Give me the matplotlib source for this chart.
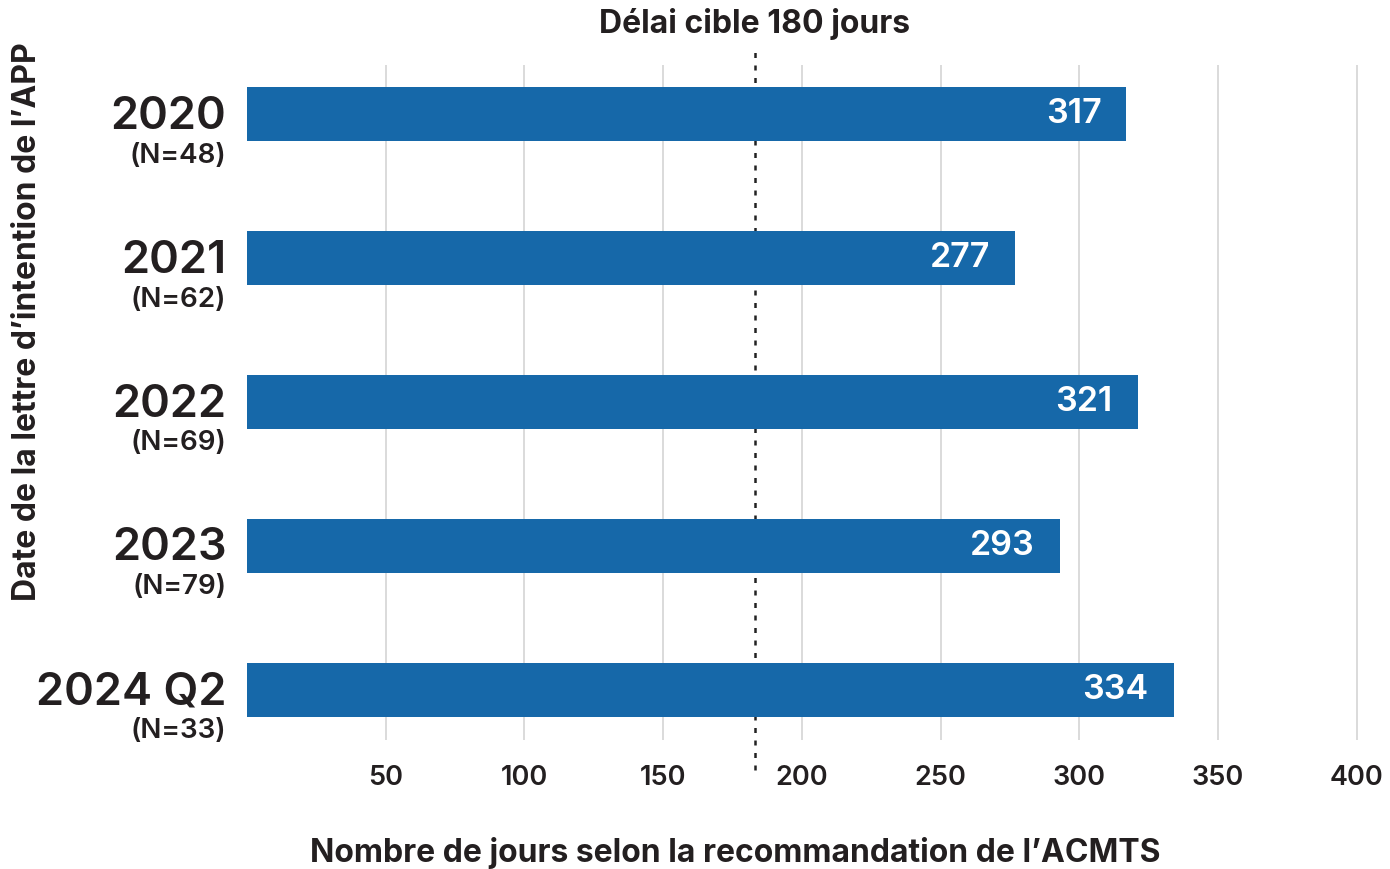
import matplotlib.pyplot as plt
from matplotlib import transforms

plt.rcParams['font.family'] = ['Inter', 'DejaVu Sans']

years = ['2020', '2021', '2022', '2023', '2024 Q2']
counts = ['(N=48)', '(N=62)', '(N=69)', '(N=79)', '(N=33)']
days = [317, 277, 321, 293, 334]
target = 183  # dotted line as drawn (labelled 180 days)
xticks = [50, 100, 150, 200, 250, 300, 350, 400]

bar_color = '#1668a9'
text_color = '#231f20'

fig = plt.figure(figsize=(13.9, 8.69), dpi=100)
ax = fig.add_axes([247 / 1390, 1 - 740 / 869, (1390 - 247) / 1390, 675 / 869])

pos = list(range(len(years)))
ax.barh(pos, days, height=0.375, color=bar_color, zorder=3)
ax.set_xlim(0, 412)
ax.set_ylim(4.35, -0.34)

ax.set_xticks(xticks)
ax.set_xticklabels([str(t) for t in xticks], fontsize=19.5, fontweight='semibold', color=text_color)
ax.tick_params(axis='x', length=0, pad=18)
ax.set_yticks([])
ax.grid(axis='x', color='#d4d4d4', linewidth=1.2, zorder=0)
for s in ax.spines.values():
    s.set_visible(False)

# value labels inside the bars
for p, v in zip(pos, days):
    ax.annotate(str(v), (v, p), xytext=(-18, 0), textcoords='offset points',
                ha='right', va='center', color='white', fontsize=24.5, fontweight='semibold', zorder=4)

# two-line category labels
tr = transforms.blended_transform_factory(ax.transAxes, ax.transData)
for p, y, n in zip(pos, years, counts):
    ax.annotate(y, (-0.018, p), xycoords=tr, xytext=(0, -2), textcoords='offset points',
                ha='right', va='center', fontsize=32.5, fontweight='semibold', color=text_color)
    ax.annotate(n, (-0.018, p), xycoords=tr, xytext=(0, -30), textcoords='offset points',
                ha='right', va='center', fontsize=20, fontweight='semibold', color=text_color)

# target line
ax.axvline(target, ymin=-0.045, ymax=1.022, color='#222222', linestyle=(0, (2, 3)),
           linewidth=1.8, clip_on=False, zorder=2)
ax.text(target, 1 - 24 / 869, 'Délai cible 180 jours',
        transform=transforms.blended_transform_factory(ax.transData, fig.transFigure),
        ha='center', va='center', fontsize=23, fontweight='bold', color=text_color)

fig.text(735 / 1390, 1 - 853 / 869, 'Nombre de jours selon la recommandation de l’ACMTS',
         ha='center', va='center', fontsize=23, fontweight='bold', color=text_color)
fig.text(28 / 1390, 1 - 322 / 869, 'Date de la lettre d’intention de l’APP', rotation=90,
         ha='center', va='center', fontsize=23, fontweight='bold', color=text_color)

fig.savefig('out.png', dpi=100)
